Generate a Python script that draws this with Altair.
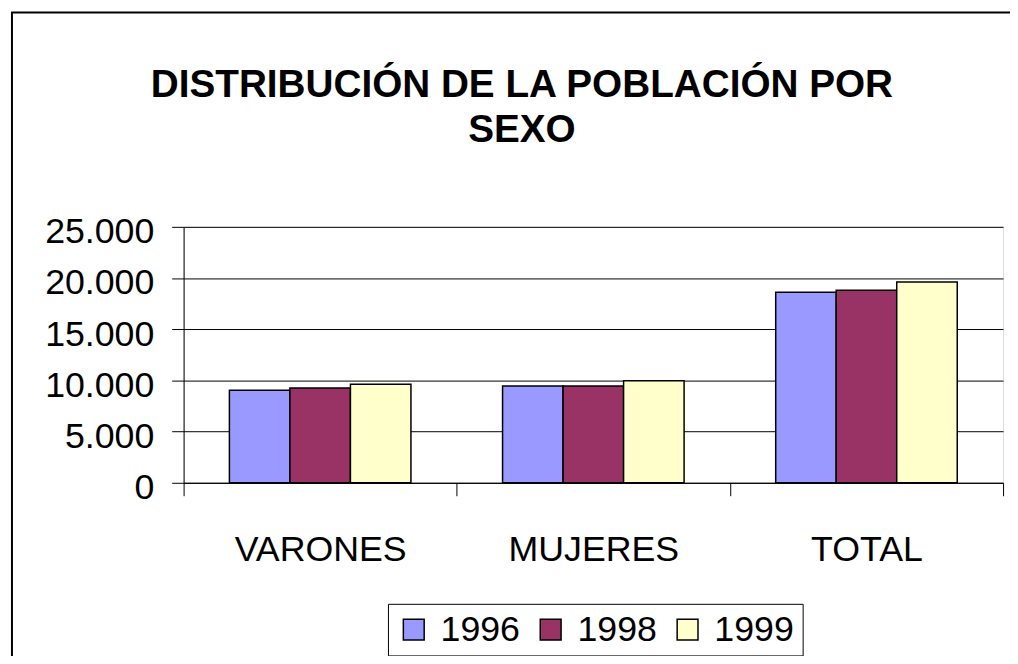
import altair as alt
import pandas as pd

categories = ["VARONES", "MUJERES", "TOTAL"]
years = ["1996", "1998", "1999"]
values_1996 = [9050, 9450, 18600]
values_1998 = [9250, 9450, 18800]
values_1999 = [9620, 9970, 19620]
y_ticks = [0, 5000, 10000, 15000, 20000, 25000]
colors = ["#9999FF", "#993366", "#FFFFCC"]

rows = []
for yr, vals in zip(years, [values_1996, values_1998, values_1999]):
    for c, v in zip(categories, vals):
        rows.append({"cat": c, "year": yr, "value": v})
df = pd.DataFrame(rows)

FONT = "Liberation Sans"

bars = alt.Chart(df).mark_bar(stroke="black", strokeWidth=1.5).encode(
    x=alt.X("cat:N", sort=categories, title=None,
            scale=alt.Scale(paddingInner=0, paddingOuter=0),
            axis=alt.Axis(tickBand="extent", labelAngle=0, labelFontSize=36,
                          labelFont=FONT, labelColor="black", tickColor="black",
                          tickSize=13, domainColor="black", labelPadding=37,
                          grid=False)),
    xOffset=alt.XOffset("year:N", sort=years,
                        scale=alt.Scale(paddingInner=0, paddingOuter=0.757)),
    y=alt.Y("value:Q", title=None,
            scale=alt.Scale(domain=[0, 25000], nice=False),
            axis=alt.Axis(values=y_ticks, labelFontSize=36, labelFont=FONT,
                          labelColor="black", tickColor="black", tickSize=12,
                          domainColor="black", gridColor="black", gridOpacity=1,
                          labelPadding=18, labelOffset=5,
                          labelExpr="replace(format(datum.value, ','), ',', '.')")),
    color=alt.Color("year:N", sort=years,
                    scale=alt.Scale(domain=years, range=colors),
                    legend=alt.Legend(title=None, orient="none", legendX=206, legendY=380,
                                      direction="horizontal", symbolType="square",
                                      symbolSize=441, symbolStrokeColor="black",
                                      symbolStrokeWidth=1.5, labelFontSize=36,
                                      labelFont=FONT, labelColor="black",
                                      labelOffset=9, columnPadding=12, padding=8,
                                      strokeColor="black", fillColor="white")),
)

frame = alt.Chart(alt.Data(values=[{"a": 1}])).mark_rect(
    fill=None, stroke="black", strokeWidth=2
).encode(
    x=alt.value(-173), y=alt.value(-216), x2=alt.value(900), y2=alt.value(600)
)

chart = alt.layer(frame, bars).properties(
    width=826, height=258,
    padding={"left": 177, "top": 218, "right": 7, "bottom": 172},
    autosize=alt.AutoSizeParams(type="none"),
    title=alt.TitleParams(
        text=["DISTRIBUCIÓN DE LA POBLACIÓN POR", "SEXO"],
        font=FONT, fontSize=39, fontWeight="bold", color="black",
        anchor="middle", dx=-72, lineHeight=45, offset=-178, baseline="bottom",
    ),
).configure_view(
    fill="#C0C0C0", stroke="#808080", strokeWidth=1.5
).configure(background="white")

chart.save("out.html", embed_options={"renderer": "svg", "actions": False})
